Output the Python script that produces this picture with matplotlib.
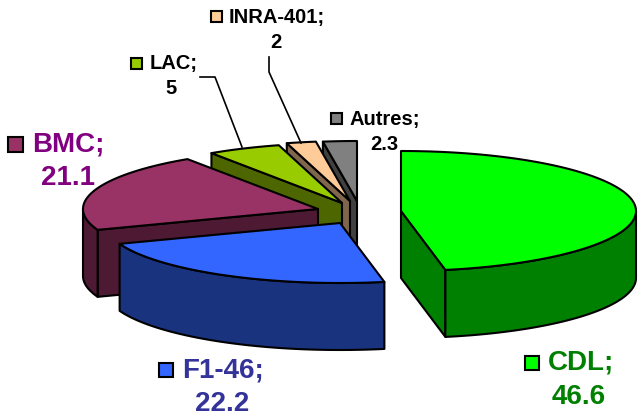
import numpy as np
import matplotlib
matplotlib.use("Agg")
import matplotlib.pyplot as plt
from matplotlib.patches import Polygon, Rectangle

plt.rcParams['font.family'] = ['Liberation Sans', 'DejaVu Sans']

names = ["CDL", "F1-46", "BMC", "LAC", "INRA-401", "Autres"]
values = [46.6, 22.2, 21.1, 5, 2, 2.3]
value_labels = ["46.6", "22.2", "21.1", "5", "2", "2.3"]
top_colors = ["#00FF00", "#3366FF", "#993366", "#99CC00", "#FFCC99", "#808080"]
side_colors = ["#008000", "#19337F", "#4D1933", "#4D6600", "#80664D", "#404040"]
text_colors = ["#008000", "#333399", "#800080", "black", "black", "black"]

# pie layout, in pixels
a = 235
b = 60
depth = 67
apex = [(401, 211), (340, 223), (318, 209), (342, 203), (350, 201), (357, 201)]
draw_order = [5, 4, 3, 2, 1, 0]

# key box x, y, size, text x, text y, value x, value y, font size
label_pos = [
    (525, 356, 14, 548, 363, 579, 397, 20),
    (159, 363, 14, 182, 370, 222, 404, 20),
    (8, 137, 15, 32, 144, 68, 178, 20),
    (131, 58, 11, 150, 64, 171, 89, 14.5),
    (211, 11, 11, 229, 17, 276, 43, 14.5),
    (331, 113, 11, 349, 119, 384, 144, 14.5),
]
leaders = [
    ([200, 215, 242], [77, 77, 147]),
    ([269, 269, 301], [57, 72, 143]),
]

lw = 1.5

fig = plt.figure(figsize=(6.4, 4.16), dpi=100)
ax = fig.add_axes([0, 0, 1, 1])
ax.set_xlim(0, 640)
ax.set_ylim(416, 0)
ax.axis("off")


def rim(cx, cy, t0, t1):
    t = np.radians(np.linspace(t0, t1, max(int(abs(t1 - t0)), 2) + 1))
    return cx + a * np.sin(t), cy - b * np.cos(t)


def poly(xs, ys, color, z):
    ax.add_patch(Polygon(np.column_stack([xs, ys]), closed=True, facecolor=color,
                         edgecolor="black", linewidth=lw, joinstyle="round", zorder=z))


fracs = np.array(values) / sum(values) * 360
ends = np.cumsum(fracs)
starts = ends - fracs

z = 1
for i in draw_order:
    cx, cy = apex[i]
    t0, t1 = starts[i], ends[i]
    # radial walls
    if 180 < t0 < 360:
        x, y = rim(cx, cy, t0, t0)
        poly([x[0], cx, cx, x[0]], [y[0], cy, cy + depth, y[0] + depth], side_colors[i], z)
    if 0 < t1 < 180:
        x, y = rim(cx, cy, t1, t1)
        poly([x[0], cx, cx, x[0]], [y[0], cy, cy + depth, y[0] + depth], side_colors[i], z)
    # outer wall
    o0, o1 = max(t0, 90), min(t1, 270)
    if o1 > o0:
        x, y = rim(cx, cy, o0, o1)
        poly(np.r_[x, x[::-1]], np.r_[y, y[::-1] + depth], side_colors[i], z)
    # top
    x, y = rim(cx, cy, t0, t1)
    poly(np.r_[cx, x], np.r_[cy, y], top_colors[i], z + 0.5)
    z += 1

for xs, ys in leaders:
    ax.plot(xs, ys, color="black", lw=1.2, zorder=20)

for i, name in enumerate(names):
    kx, ky, ks, tx, ty, vx, vy, fs = label_pos[i]
    ax.add_patch(Rectangle((kx, ky), ks, ks, facecolor=top_colors[i], edgecolor="black",
                           linewidth=lw, zorder=21))
    ax.text(tx, ty, name + ";", color=text_colors[i], fontsize=fs, fontweight="bold",
            ha="left", va="center", zorder=22)
    ax.text(vx, vy, value_labels[i], color=text_colors[i], fontsize=fs, fontweight="bold",
            ha="center", va="center", zorder=22)

fig.savefig("out.png", dpi=100)
plt.close(fig)
